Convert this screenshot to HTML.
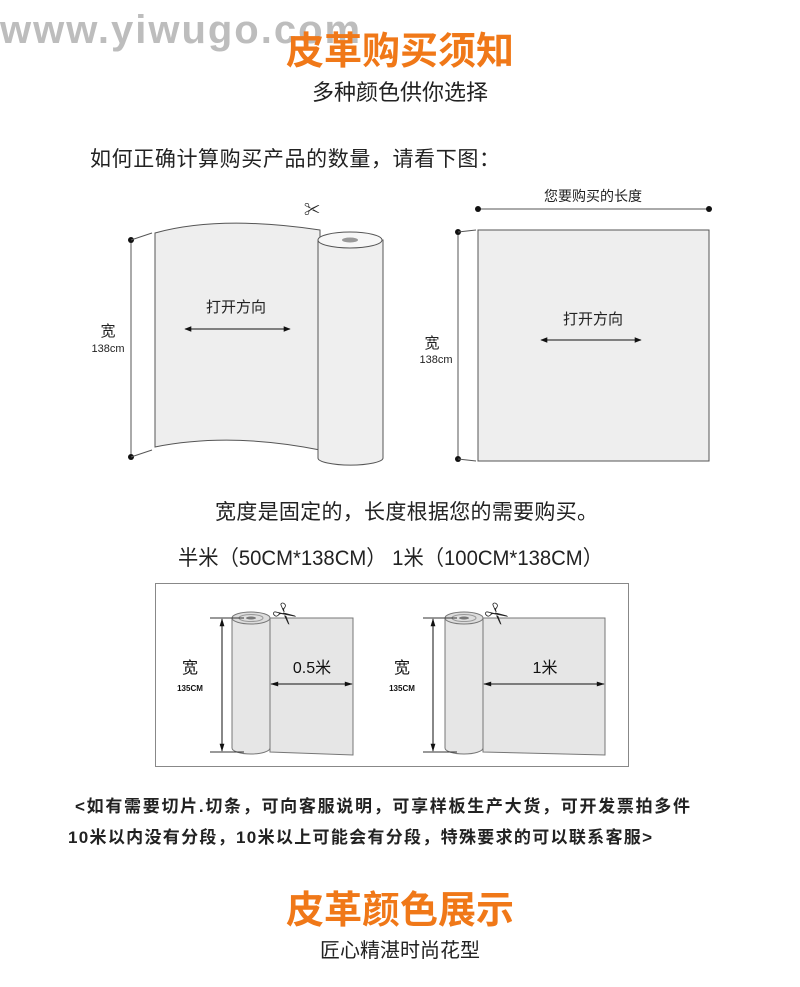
<!DOCTYPE html>
<html><head><meta charset="utf-8"><style>
body{margin:0;background:#fff;}
svg{display:block;font-family:"Liberation Sans","Noto Sans CJK SC",sans-serif;}
</style></head><body>
<svg width="800" height="987" viewBox="0 0 800 987" xmlns="http://www.w3.org/2000/svg">
<defs>
<marker id="ah" viewBox="0 0 10 10" refX="9" refY="5" markerWidth="9" markerHeight="7" orient="auto-start-reverse"><path d="M0,1 L10,5 L0,9 z" fill="#111"/></marker>
<marker id="ah2" viewBox="0 0 10 10" refX="9" refY="5" markerWidth="12" markerHeight="8" orient="auto-start-reverse" markerUnits="userSpaceOnUse"><path d="M0,2 L10,5 L0,8 z" fill="#111"/></marker>
</defs>
<text x="0" y="43" font-size="40" font-weight="bold" fill="#bdbdbd" letter-spacing="2">www.yiwugo.com</text>
<text x="400" y="64" text-anchor="middle" font-size="38" font-weight="bold" fill="#f07818">皮革购买须知</text>
<text x="400" y="100" text-anchor="middle" font-size="22" fill="#222">多种颜色供你选择</text>
<text x="90" y="166" font-size="21" fill="#222" textLength="410" lengthAdjust="spacing">如何正确计算购买产品的数量，请看下图：</text>

<!-- left diagram -->
<line x1="131" y1="240" x2="131" y2="457" stroke="#555" stroke-width="1"/>
<circle cx="131" cy="240" r="3" fill="#111"/><circle cx="131" cy="457" r="3" fill="#111"/>
<line x1="131" y1="240" x2="152" y2="233" stroke="#555"/><line x1="131" y1="457" x2="152" y2="450" stroke="#555"/>
<path d="M155,233 Q220,215 320,230 L320,450 Q230,432 155,447 Z" fill="#eeeeee" stroke="#555"/>
<path d="M318,240 L318,458 A32,7 0 0 0 383,458 L383,240 Z" fill="#efefef" stroke="#555"/>
<ellipse cx="350" cy="240" rx="32" ry="8" fill="#f7f7f7" stroke="#555"/>
<ellipse cx="350" cy="240" rx="8" ry="2.5" fill="#999"/>
<text x="304" y="215" font-size="16" fill="#222">✂</text>
<text x="236" y="312" text-anchor="middle" font-size="15" fill="#222">打开方向</text>
<line x1="185" y1="329" x2="290" y2="329" stroke="#111" marker-start="url(#ah)" marker-end="url(#ah)"/>
<text x="108" y="336" text-anchor="middle" font-size="15" fill="#222">宽</text>
<text x="108" y="352" text-anchor="middle" font-size="11" fill="#222">138cm</text>

<!-- right diagram -->
<line x1="478" y1="209" x2="709" y2="209" stroke="#555"/>
<circle cx="478" cy="209" r="3" fill="#111"/><circle cx="709" cy="209" r="3" fill="#111"/>
<text x="593" y="201" text-anchor="middle" font-size="14" fill="#222">您要购买的长度</text>
<rect x="478" y="230" width="231" height="231" fill="#eeeeee" stroke="#555"/>
<line x1="458" y1="232" x2="458" y2="459" stroke="#555"/>
<circle cx="458" cy="232" r="3" fill="#111"/><circle cx="458" cy="459" r="3" fill="#111"/>
<line x1="458" y1="232" x2="476" y2="230" stroke="#555"/><line x1="458" y1="459" x2="476" y2="461" stroke="#555"/>
<text x="432" y="348" text-anchor="middle" font-size="15" fill="#222">宽</text>
<text x="436" y="363" text-anchor="middle" font-size="11" fill="#222">138cm</text>
<text x="593" y="324" text-anchor="middle" font-size="15" fill="#222">打开方向</text>
<line x1="541" y1="340" x2="641" y2="340" stroke="#111" marker-start="url(#ah)" marker-end="url(#ah)"/>

<text x="215" y="519" font-size="21" fill="#222" textLength="383" lengthAdjust="spacing">宽度是固定的，长度根据您的需要购买。</text>
<text x="178" y="565" font-size="21" fill="#222" textLength="425" lengthAdjust="spacingAndGlyphs">半米（50CM*138CM） 1米（100CM*138CM）</text>

<!-- box -->
<rect x="155.5" y="583.5" width="473" height="183" fill="#fff" stroke="#888"/>
<g>
<path d="M270,618 L353,618 L353,755 L270,752 Z" fill="#e6e6e6" stroke="#777"/>
<path d="M232,618 L232,748 A19,6 0 0 0 270,748 L270,618 Z" fill="#e6e6e6" stroke="#777"/>
<ellipse cx="251" cy="618" rx="19" ry="6" fill="#ddd" stroke="#777"/>
<ellipse cx="251" cy="618" rx="12" ry="3.5" fill="none" stroke="#999"/>
<ellipse cx="251" cy="618" rx="5" ry="1.5" fill="#777"/>
<line x1="210" y1="618" x2="244" y2="618" stroke="#333"/><line x1="210" y1="752" x2="244" y2="752" stroke="#333"/>
<line x1="222" y1="619" x2="222" y2="751" stroke="#111" marker-start="url(#ah2)" marker-end="url(#ah2)"/>
<text x="190" y="673" text-anchor="middle" font-size="16" fill="#111">宽</text>
<text x="190" y="691" text-anchor="middle" font-size="8" fill="#111" font-weight="bold">135CM</text>
<line x1="271" y1="684" x2="352" y2="684" stroke="#111" marker-start="url(#ah2)" marker-end="url(#ah2)"/>
<text x="312" y="673" text-anchor="middle" font-size="16" fill="#111">0.5米</text>
<text x="276" y="624" font-size="22" fill="#222" transform="rotate(40 288 612)">✂</text>
</g>
<g>
<path d="M483,618 L605,618 L605,755 L483,752 Z" fill="#e6e6e6" stroke="#777"/>
<path d="M445,618 L445,748 A19,6 0 0 0 483,748 L483,618 Z" fill="#e6e6e6" stroke="#777"/>
<ellipse cx="464" cy="618" rx="19" ry="6" fill="#ddd" stroke="#777"/>
<ellipse cx="464" cy="618" rx="12" ry="3.5" fill="none" stroke="#999"/>
<ellipse cx="464" cy="618" rx="5" ry="1.5" fill="#777"/>
<line x1="423" y1="618" x2="457" y2="618" stroke="#333"/><line x1="423" y1="752" x2="457" y2="752" stroke="#333"/>
<line x1="433" y1="619" x2="433" y2="751" stroke="#111" marker-start="url(#ah2)" marker-end="url(#ah2)"/>
<text x="402" y="673" text-anchor="middle" font-size="16" fill="#111">宽</text>
<text x="402" y="691" text-anchor="middle" font-size="8" fill="#111" font-weight="bold">135CM</text>
<line x1="484" y1="684" x2="604" y2="684" stroke="#111" marker-start="url(#ah2)" marker-end="url(#ah2)"/>
<text x="545" y="673" text-anchor="middle" font-size="16" fill="#111">1米</text>
<text x="488" y="624" font-size="22" fill="#222" transform="rotate(40 500 612)">✂</text>
</g>

<text x="75" y="812" font-size="17" font-weight="bold" fill="#222" textLength="615" lengthAdjust="spacing">&lt;如有需要切片.切条，可向客服说明，可享样板生产大货，可开发票拍多件</text>
<text x="68" y="843" font-size="17" font-weight="bold" fill="#222" textLength="584" lengthAdjust="spacing">10米以内没有分段，10米以上可能会有分段，特殊要求的可以联系客服&gt;</text>

<text x="400" y="923" text-anchor="middle" font-size="38" font-weight="bold" fill="#f07818">皮革颜色展示</text>
<text x="400" y="957" text-anchor="middle" font-size="20" fill="#222">匠心精湛时尚花型</text>
</svg>
</body></html>
